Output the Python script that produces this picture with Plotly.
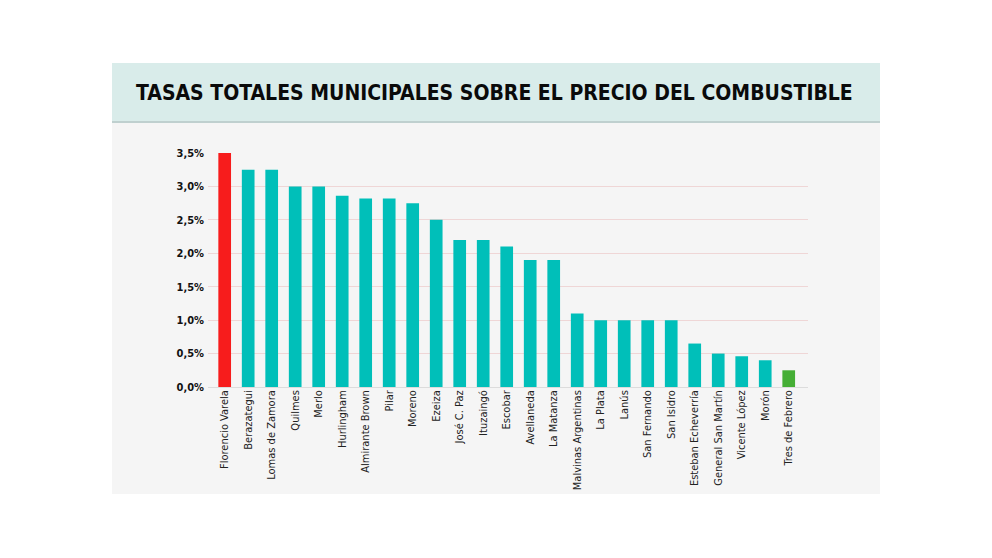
import plotly.graph_objects as go

municipios = ["Florencio Varela", "Berazategui", "Lomas de Zamora", "Quilmes", "Merlo",
              "Hurlingham", "Almirante Brown", "Pilar", "Moreno", "Ezeiza", "José C. Paz",
              "Ituzaingó", "Escobar", "Avellaneda", "La Matanza", "Malvinas Argentinas",
              "La Plata", "Lanús", "San Fernando", "San Isidro", "Esteban Echeverría",
              "General San Martín", "Vicente López", "Morón", "Tres de Febrero"]
tasas = [3.5, 3.25, 3.25, 3.0, 3.0, 2.86, 2.82, 2.82, 2.75, 2.5, 2.2, 2.2, 2.1, 1.9, 1.9,
         1.1, 1.0, 1.0, 1.0, 1.0, 0.65, 0.5, 0.46, 0.4, 0.25]
y_ticks = [0, 0.5, 1.0, 1.5, 2.0, 2.5, 3.0, 3.5]
y_ticktext = ["0,0%", "0,5%", "1,0%", "1,5%", "2,0%", "2,5%", "3,0%", "3,5%"]
titulo = "TASAS TOTALES MUNICIPALES SOBRE EL PRECIO DEL COMBUSTIBLE"

TEAL = "#00bfb9"
RED = "#f71c1c"
GREEN = "#45ae35"
colors = [RED if i == 0 else (GREEN if i == len(tasas) - 1 else TEAL) for i in range(len(tasas))]

OFF = 8  # page body margin
W, H = 992 - 2 * OFF, 558 - 2 * OFF
L, R, T, B = 208 - OFF, 808 - OFF, 153 - OFF, 387 - OFF


def px(x):
    return (x - OFF - L) / (R - L)


def py(y):
    return (B - (y - OFF)) / (B - T)


fig = go.Figure(go.Bar(x=municipios, y=tasas, marker=dict(color=colors, line=dict(width=0)),
                       width=0.54))

FONT = "Liberation Sans Narrow, DejaVu Sans Condensed, Arial Narrow, sans-serif"

shapes = [
    dict(type="rect", xref="paper", yref="paper", x0=px(112), x1=px(880), y0=py(494), y1=py(63),
         fillcolor="#f5f5f5", line=dict(width=0), layer="below"),
    dict(type="rect", xref="paper", yref="paper", x0=px(112), x1=px(880), y0=py(122), y1=py(63),
         fillcolor="#d9ecea", line=dict(width=0), layer="below"),
    dict(type="line", xref="paper", yref="paper", x0=px(112), x1=px(880), y0=py(122), y1=py(122),
         line=dict(color="#bfd0cf", width=2), layer="below"),
]

fig.update_layout(
    width=W, height=H,
    margin=dict(l=L, r=W - R, t=T, b=H - B, pad=0),
    paper_bgcolor="white", plot_bgcolor="rgba(0,0,0,0)",
    showlegend=False,
    shapes=shapes,
    annotations=[dict(text="<b>" + titulo + "</b>", xref="paper", yref="paper",
                      x=px(494), y=py(93), xanchor="center", yanchor="middle", showarrow=False,
                      font=dict(family=FONT, size=21, color="#0a0a0a"))],
)
fig.update_xaxes(range=[-0.71, 24.82], showgrid=False, zeroline=False, showline=False,
                 ticks="", tickangle=-90, tickfont=dict(family=FONT, size=11, color="#222222"),
                 fixedrange=True)
fig.update_yaxes(range=[0, 3.5], tickvals=y_ticks, ticktext=["<b>" + t + "</b>" for t in y_ticktext],
                 showgrid=True, gridcolor="#efd6d6", gridwidth=1, zeroline=True,
                 zerolinecolor="#dcdcdc", zerolinewidth=1, showline=False, ticks="",
                 ticklabelstandoff=3,
                 tickfont=dict(family=FONT, size=11, color="#111111"), fixedrange=True)

fig.write_html("out.html")
